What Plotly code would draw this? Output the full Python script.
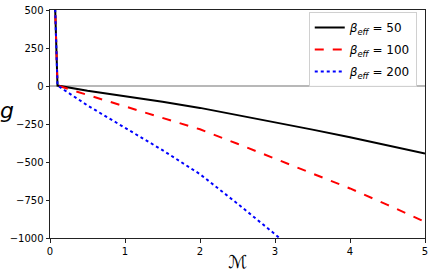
import plotly.graph_objects as go

M = [0.05, 0.1, 0.5, 1.0, 1.5, 2.0, 2.5, 3.0, 3.5, 4.0, 4.5, 5.0]
g_b50 = [820, 3, -31, -67, -104, -144, -190, -239, -287, -337, -390, -444]
g_b100 = [820, 3, -59, -135, -208, -285, -380, -478, -575, -674, -782, -894]
g_b200 = [820, 3, -128, -275, -422, -580, -774, -975, -1180, -1390, -1600, -1820]

names = ["<i>β</i><sub><i>eff</i></sub> = 50",
         "<i>β</i><sub><i>eff</i></sub> = 100",
         "<i>β</i><sub><i>eff</i></sub> = 200"]
colors = ["#000000", "#ff0000", "#0000ff"]
dashes = ["solid", "dash", "dot"]

x_ticks = [0, 1, 2, 3, 4, 5]
y_ticks = [500, 250, 0, -250, -500, -750, -1000]

fig = go.Figure()
for i, (ys, nm, c, d) in enumerate(zip([g_b50, g_b100, g_b200], names, colors, dashes)):
    fig.add_trace(go.Scatter(x=M, y=ys, mode="lines", name=nm, legendgroup=f"g{i}",
                             line=dict(color=c, dash=d, width=2)))

axis_common = dict(showline=True, mirror=True, linecolor="#222", linewidth=1,
                   ticks="outside", ticklen=3.5, tickwidth=1, tickcolor="#222",
                   showgrid=False, ticklabeloverflow="allow",
                   tickfont=dict(family="DejaVu Sans", size=10, color="#000"))
fig.update_xaxes(range=[0, 5], tickvals=x_ticks, zeroline=False, **axis_common)
fig.update_yaxes(range=[-1000, 500], tickvals=y_ticks, zeroline=True,
                 zerolinecolor="#b8b8b8", zerolinewidth=1.5, **axis_common)

fig.add_annotation(text="<i>g</i>", xref="paper", yref="paper", x=-0.114, y=0.56,
                   showarrow=False, xanchor="center", yanchor="middle",
                   font=dict(family="DejaVu Sans", size=22, color="#000"))
fig.add_annotation(text="<i>ℳ</i>", xref="paper", yref="paper", x=0.5, y=-0.105,
                   showarrow=False, xanchor="center", yanchor="middle",
                   font=dict(family="DejaVu Sans", size=18, color="#000"))

fig.update_layout(
    width=431, height=279,
    margin=dict(l=50, r=3, t=10, b=41),
    paper_bgcolor="white", plot_bgcolor="white",
    showlegend=True,
    legend=dict(x=0.978, y=0.991, xanchor="right", yanchor="top",
                bgcolor="rgba(255,255,255,0.9)", bordercolor="#d0d0d0", borderwidth=1,
                font=dict(family="DejaVu Sans", size=12, color="#000"),
                tracegroupgap=3, itemwidth=30),
)
fig.write_html("out.html", config={"displayModeBar": False},
               post_script="document.body.style.margin='0';document.body.style.overflow='hidden';")
